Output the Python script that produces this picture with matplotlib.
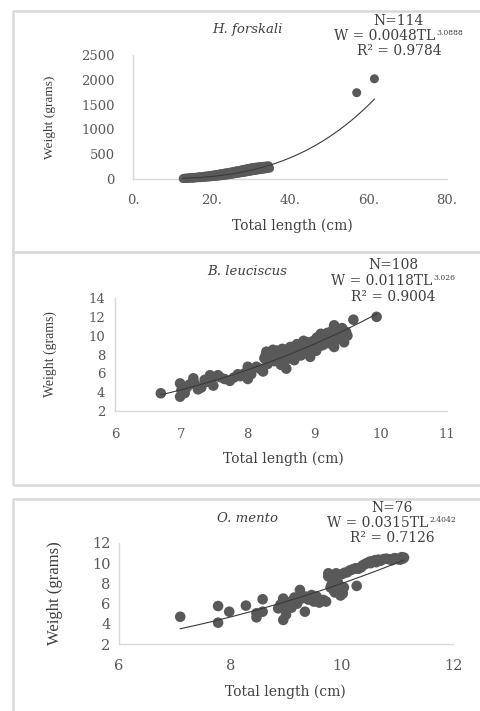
import numpy as np
import matplotlib
matplotlib.use("Agg")
import matplotlib.pyplot as plt
from matplotlib.patches import Rectangle

plt.rcParams['font.family'] = ['DejaVu Serif']

# ---------------- data ----------------
hf_len = [12.8, 13.1, 13.4, 13.6, 13.9, 14.1, 14.3, 14.6, 14.8, 15.0,
          15.2, 15.5, 15.7, 15.9, 16.1, 16.4, 16.6, 16.8, 17.1, 17.3,
          17.5, 17.8, 18.0, 18.2, 18.4, 18.7, 18.9, 19.1, 19.3, 19.6,
          19.8, 20.0, 20.2, 20.5, 20.7, 20.9, 21.2, 21.4, 21.6, 21.9,
          22.1, 22.3, 22.6, 22.8, 23.0, 23.3, 23.5, 23.7, 24.0, 24.2,
          24.4, 24.7, 24.9, 25.1, 25.4, 25.6, 25.8, 26.1, 26.3, 26.5,
          26.8, 27.0, 27.2, 27.5, 27.7, 27.9, 28.2, 28.4, 28.6, 28.9,
          29.1, 29.3, 29.6, 29.8, 30.0, 30.3, 30.5, 30.7, 31.0, 31.2,
          31.4, 31.7, 31.9, 32.1, 32.4, 32.6, 32.8, 33.1, 33.3, 33.5,
          33.8, 34.0, 34.2, 34.5, 34.8, 13.5, 15.4, 17.0, 18.5, 19.9,
          21.0, 22.4, 23.8, 25.0, 26.6, 27.3, 28.0, 29.0, 30.1, 31.5,
          33.0, 34.3, 57.0, 61.5]
hf_wt = [8, 16, 11, 20, 14, 22, 15, 26, 17, 28,
         18, 32, 21, 34, 24, 38, 26, 44, 27, 46,
         30, 50, 33, 56, 35, 60, 38, 64, 42, 70,
         45, 74, 48, 80, 52, 86, 55, 92, 60, 98,
         62, 104, 68, 110, 72, 118, 76, 124, 82, 130,
         86, 136, 92, 142, 98, 150, 104, 158, 110, 166,
         116, 172, 122, 180, 128, 188, 134, 196, 140, 204,
         146, 212, 152, 220, 160, 226, 166, 232, 172, 238,
         178, 242, 184, 246, 190, 250, 196, 254, 200, 258,
         206, 262, 212, 266, 218, 10, 20, 36, 52, 62,
         66, 94, 100, 120, 146, 154, 176, 184, 200, 214,
         230, 240, 1740, 2020]

bl_len = [6.69, 6.98, 6.98, 7.00, 7.05, 7.08, 7.12, 7.18, 7.20, 7.25,
          7.30, 7.35, 7.38, 7.43, 7.45, 7.48, 7.55, 7.58, 7.65, 7.73,
          7.79, 7.85, 7.89, 7.95, 8.00, 8.00, 8.02, 8.05, 8.13, 8.18,
          8.23, 8.25, 8.28, 8.28, 8.30, 8.33, 8.35, 8.38, 8.40, 8.42,
          8.45, 8.48, 8.50, 8.52, 8.53, 8.55, 8.58, 8.58, 8.60, 8.62,
          8.64, 8.66, 8.69, 8.70, 8.72, 8.74, 8.76, 8.79, 8.80, 8.82,
          8.84, 8.86, 8.89, 8.90, 8.92, 8.94, 8.96, 8.99, 9.00, 9.02,
          9.04, 9.06, 9.08, 9.10, 9.12, 9.15, 9.17, 9.20, 9.22, 9.25,
          9.28, 9.30, 9.30, 9.32, 9.35, 9.38, 9.40, 9.42, 9.45, 9.45,
          9.48, 9.59, 9.94, 8.27, 8.36, 8.44, 8.47, 8.56, 8.63, 8.68,
          8.75, 8.78, 8.85, 8.93, 9.03, 9.13, 9.27, 9.50]
bl_wt = [3.88, 3.52, 4.93, 4.20, 3.90, 4.50, 4.80, 5.47, 4.90, 4.30,
         4.50, 5.30, 5.10, 5.80, 5.50, 4.70, 5.80, 5.60, 5.40, 5.20,
         5.55, 5.90, 5.70, 6.00, 6.70, 5.40, 6.20, 5.90, 6.70, 6.50,
         6.20, 7.60, 8.30, 7.40, 7.00, 7.75, 8.10, 8.50, 7.30, 7.90,
         8.20, 7.25, 6.90, 8.60, 7.75, 7.20, 8.50, 6.50, 8.00, 7.60,
         8.80, 8.30, 8.10, 7.40, 8.90, 9.10, 8.60, 8.45, 7.90, 9.20,
         9.45, 8.20, 8.80, 9.30, 8.50, 7.75, 9.00, 9.45, 8.70, 9.10,
         9.80, 9.40, 8.90, 10.20, 9.60, 10.00, 9.60, 10.30, 9.20, 10.00,
         10.60, 11.10, 8.80, 9.50, 10.60, 9.90, 10.20, 10.80, 9.80, 9.30,
         10.40, 11.70, 12.00, 7.90, 7.50, 8.40, 7.70, 8.20, 7.80, 8.60,
         8.00, 9.00, 8.70, 9.20, 8.40, 9.00, 9.70, 10.00]

om_len = [7.10, 7.78, 7.78, 7.98, 8.28, 8.47, 8.47, 8.58, 8.58, 8.86,
          8.95, 8.95, 9.00, 9.00, 9.12, 9.25, 9.28, 9.34, 9.46, 9.50,
          9.67, 9.72, 9.76, 9.76, 9.80, 9.86, 9.94, 9.94, 9.98, 10.04,
          10.27, 10.15, 10.30, 10.38, 10.50, 10.60, 10.80, 10.98, 11.10, 11.08,
          8.90, 9.05, 9.10, 9.15, 9.20, 9.35, 9.40, 9.55, 9.60, 9.82,
          9.85, 9.88, 9.90, 9.92, 10.00, 10.02, 10.05, 10.10, 10.20, 10.25,
          10.35, 10.42, 10.45, 10.52, 10.55, 10.62, 10.66, 10.70, 10.75, 10.85,
          10.90, 10.95, 11.00, 11.05, 11.12, 9.00]
om_wt = [4.70, 5.76, 4.11, 5.20, 5.80, 4.64, 5.04, 6.43, 5.20, 5.53,
         6.50, 4.38, 4.90, 5.70, 6.30, 7.35, 6.50, 5.20, 6.85, 6.20,
         6.36, 6.20, 9.00, 8.70, 7.60, 7.30, 8.00, 8.85, 6.80, 7.60,
         7.75, 9.30, 9.45, 9.80, 10.15, 10.30, 10.45, 10.45, 10.45, 10.60,
         5.90, 6.10, 5.60, 6.60, 6.00, 6.70, 6.40, 6.70, 6.10, 7.90,
         8.40, 7.10, 9.00, 7.50, 8.90, 7.00, 9.05, 9.10, 9.40, 9.50,
         9.60, 9.90, 10.00, 10.00, 10.20, 10.10, 10.35, 10.25, 10.40, 10.40,
         10.30, 10.50, 10.40, 10.35, 10.55, 6.20]

# regression coefficients shown on chart (W = a * TL^b)
species = ["H. forskali", "B. leuciscus", "O. mento"]
n_text = ["N=114", "N=108", "N=76"]
coef_a = [0.0048, 0.0118, 0.0315]
coef_b = [3.0888, 3.026, 2.4042]
coef_a_txt = ["0.0048", "0.0118", "0.0315"]
coef_b_txt = ["3.0888", "3.026", "2.4042"]
r2_txt = ["0.9784", "0.9004", "0.7126"]
x_ticks = [[0, 20, 40, 60, 80], [6, 7, 8, 9, 10, 11], [6, 8, 10, 12]]
x_ticklabels = [["0.", "20.", "40.", "60.", "80."],
                ["6", "7", "8", "9", "10", "11"],
                ["6", "8", "10", "12"]]
y_ticks = [[0, 500, 1000, 1500, 2000, 2500],
           [2, 4, 6, 8, 10, 12, 14],
           [2, 4, 6, 8, 10, 12]]

# ---------------- layout ----------------
W, H = 481, 711
fig = plt.figure(figsize=(W / 100, H / 100), dpi=100)
fig.patch.set_facecolor("white")
renderer = fig.canvas.get_renderer()


def fx(px):
    return px / W


def fy(py):
    return 1 - py / H


border_col = "#d9d9d9"
for (top, bot) in [(11, 252), (252, 485), (499, 730)]:
    fig.patches.append(Rectangle((fx(13), fy(bot)), fx(490) - fx(13), fy(top) - fy(bot),
                                 transform=fig.transFigure, fill=False,
                                 edgecolor=border_col, linewidth=1.8, zorder=0))

boxes = [(133, 447, 55, 179), (115, 447, 298, 411), (119, 453, 543, 644)]
xlims = [(0, 80), (6, 11), (6, 12)]
ylims = [(0, 2500), (2, 14), (2, 12)]
data = [(hf_len, hf_wt), (bl_len, bl_wt), (om_len, om_wt)]
msize = [42, 58, 58]
ypad = [13, 7, 6]
xpad = [11, 12, 11]
tick_fs = [9.5, 9.5, 10.5]
ylab_fs = [9.6, 9.9, 12.0]
ylab_x = [50, 50, 55]
xlab_pos = [(292, 226), (283, 459), (285, 692)]
title_pos = [(247, 30), (247, 272), (248, 518)]
ann_x = [399, 393, 392]
ann_y = [(21, 36, 51), (265, 281, 297), (508, 523, 538)]

tick_col = "#595959"
text_col = "#404040"
pt_col = "#595959"

for i in range(3):
    l, r, t, b = boxes[i]
    ax = fig.add_axes([fx(l), fy(b), fx(r) - fx(l), fy(t) - fy(b)])
    xs = np.array(data[i][0], dtype=float)
    ys = np.array(data[i][1], dtype=float)
    ax.scatter(xs, ys, s=msize[i], color=pt_col, edgecolors="none", zorder=3, clip_on=False)
    xx = np.linspace(xs.min(), xs.max(), 200)
    ax.plot(xx, coef_a[i] * xx ** coef_b[i], color="#3a3a3a", lw=0.8, zorder=4)
    ax.set_xlim(*xlims[i])
    ax.set_ylim(*ylims[i])
    ax.set_xticks(x_ticks[i])
    ax.set_xticklabels(x_ticklabels[i])
    ax.set_yticks(y_ticks[i])
    for s in ["top", "right"]:
        ax.spines[s].set_visible(False)
    for s in ["left", "bottom"]:
        ax.spines[s].set_color(border_col)
        ax.spines[s].set_linewidth(1.0)
    ax.tick_params(axis="both", length=0, colors=tick_col, labelsize=tick_fs[i])
    ax.tick_params(axis="x", pad=xpad[i])
    ax.tick_params(axis="y", pad=ypad[i])
    ax.patch.set_alpha(0)

    cy = (t + b) / 2
    fig.text(fx(ylab_x[i]), fy(cy), "Weight (grams)", rotation=90, ha="center", va="center",
             fontsize=ylab_fs[i], color=text_col, family="Liberation Serif")
    fig.text(fx(xlab_pos[i][0]), fy(xlab_pos[i][1]), "Total length (cm)", ha="center",
             va="center", fontsize=10, color=text_col)
    fig.text(fx(title_pos[i][0]), fy(title_pos[i][1]), species[i], ha="center", va="center",
             fontsize=9.5, style="italic", color=text_col)
    fig.text(fx(ann_x[i]), fy(ann_y[i][0]), n_text[i], ha="center", va="center",
             fontsize=10, color=text_col)
    # equation line: main text + small superscript exponent, centred together
    main = fig.text(0, 0, "W = " + coef_a_txt[i] + "TL", ha="left", va="center",
                    fontsize=10, color=text_col)
    sup = fig.text(0, 0, coef_b_txt[i], ha="left", va="bottom", fontsize=5.5,
                   color=text_col)
    wm = main.get_window_extent(renderer).width
    ws = sup.get_window_extent(renderer).width
    x0 = ann_x[i] - (wm + ws + 1) / 2
    main.set_position((fx(x0), fy(ann_y[i][1])))
    sup.set_position((fx(x0 + wm + 1), fy(ann_y[i][1] + 1)))
    fig.text(fx(ann_x[i]), fy(ann_y[i][2]), "R² = " + r2_txt[i], ha="center",
             va="center", fontsize=10, color=text_col)

fig.savefig("out.png", dpi=100, facecolor="white")
